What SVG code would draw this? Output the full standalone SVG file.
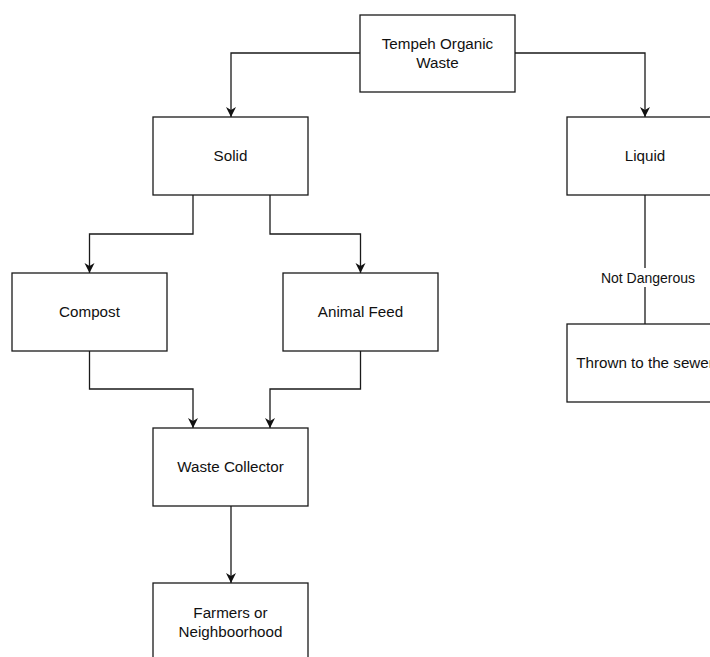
<svg xmlns="http://www.w3.org/2000/svg" width="710" height="657" viewBox="0 0 710 657">
  <style>
    .box { fill: #ffffff; stroke: #1a1a1a; stroke-width: 1.3; }
    .lbl { font-family: "Liberation Sans", Arial, sans-serif; font-size: 15.2px; fill: #111111; text-anchor: middle; }
    .elbl { font-family: "Liberation Sans", Arial, sans-serif; font-size: 14px; fill: #111111; text-anchor: middle; }
    .edge { fill: none; stroke: #1a1a1a; stroke-width: 1.3; }
  </style>
  <defs>
    <marker id="arrow" viewBox="0 0 10 10" refX="10" refY="5" markerWidth="10" markerHeight="11" markerUnits="userSpaceOnUse" orient="auto">
      <path d="M0,0 L10,5 L0,10 L3,5 Z" fill="#111111"/>
    </marker>
  </defs>
  <rect width="710" height="657" fill="#ffffff"/>

  <g id="connectors">
    <path class="edge" d="M360,53 H231 V117" marker-end="url(#arrow)"/>
    <path class="edge" d="M515,53 H645 V117" marker-end="url(#arrow)"/>
    <path class="edge" d="M193,195 V234 H89.5 V273" marker-end="url(#arrow)"/>
    <path class="edge" d="M270,195 V234 H360.5 V273" marker-end="url(#arrow)"/>
    <path class="edge" d="M89.5,351 V389 H193 V428" marker-end="url(#arrow)"/>
    <path class="edge" d="M360.5,351 V389 H270 V428" marker-end="url(#arrow)"/>
    <path class="edge" d="M231,506 V583" marker-end="url(#arrow)"/>
    <path class="edge" d="M645,195 V324"/>
    <rect x="600" y="268" width="98" height="19" fill="#ffffff"/>
    <text class="elbl" x="648" y="282.8">Not Dangerous</text>
  </g>

  <g id="tempeh">
    <rect class="box" x="360" y="15" width="155" height="77"/>
    <text class="lbl" x="437.5" y="48.8">Tempeh Organic</text>
    <text class="lbl" x="437.5" y="67.8">Waste</text>
  </g>
  <g id="solid">
    <rect class="box" x="153" y="117" width="155" height="78"/>
    <text class="lbl" x="230.5" y="161.3">Solid</text>
  </g>
  <g id="liquid">
    <rect class="box" x="567" y="117" width="155" height="78"/>
    <text class="lbl" x="645" y="161.3">Liquid</text>
  </g>
  <g id="compost">
    <rect class="box" x="12" y="273" width="155" height="78"/>
    <text class="lbl" x="89.5" y="317.3">Compost</text>
  </g>
  <g id="animal-feed">
    <rect class="box" x="283" y="273" width="155" height="78"/>
    <text class="lbl" x="360.5" y="317.3">Animal Feed</text>
  </g>
  <g id="waste-collector">
    <rect class="box" x="153" y="428" width="155" height="78"/>
    <text class="lbl" x="230.5" y="472.3">Waste Collector</text>
  </g>
  <g id="farmers">
    <rect class="box" x="153" y="583" width="155" height="78"/>
    <text class="lbl" x="230.5" y="618">Farmers or</text>
    <text class="lbl" x="230.5" y="637">Neighboorhood</text>
  </g>
  <g id="sewer">
    <rect class="box" x="567" y="324" width="155" height="78"/>
    <text class="lbl" x="645" y="368.3">Thrown to the sewer</text>
  </g>
</svg>
